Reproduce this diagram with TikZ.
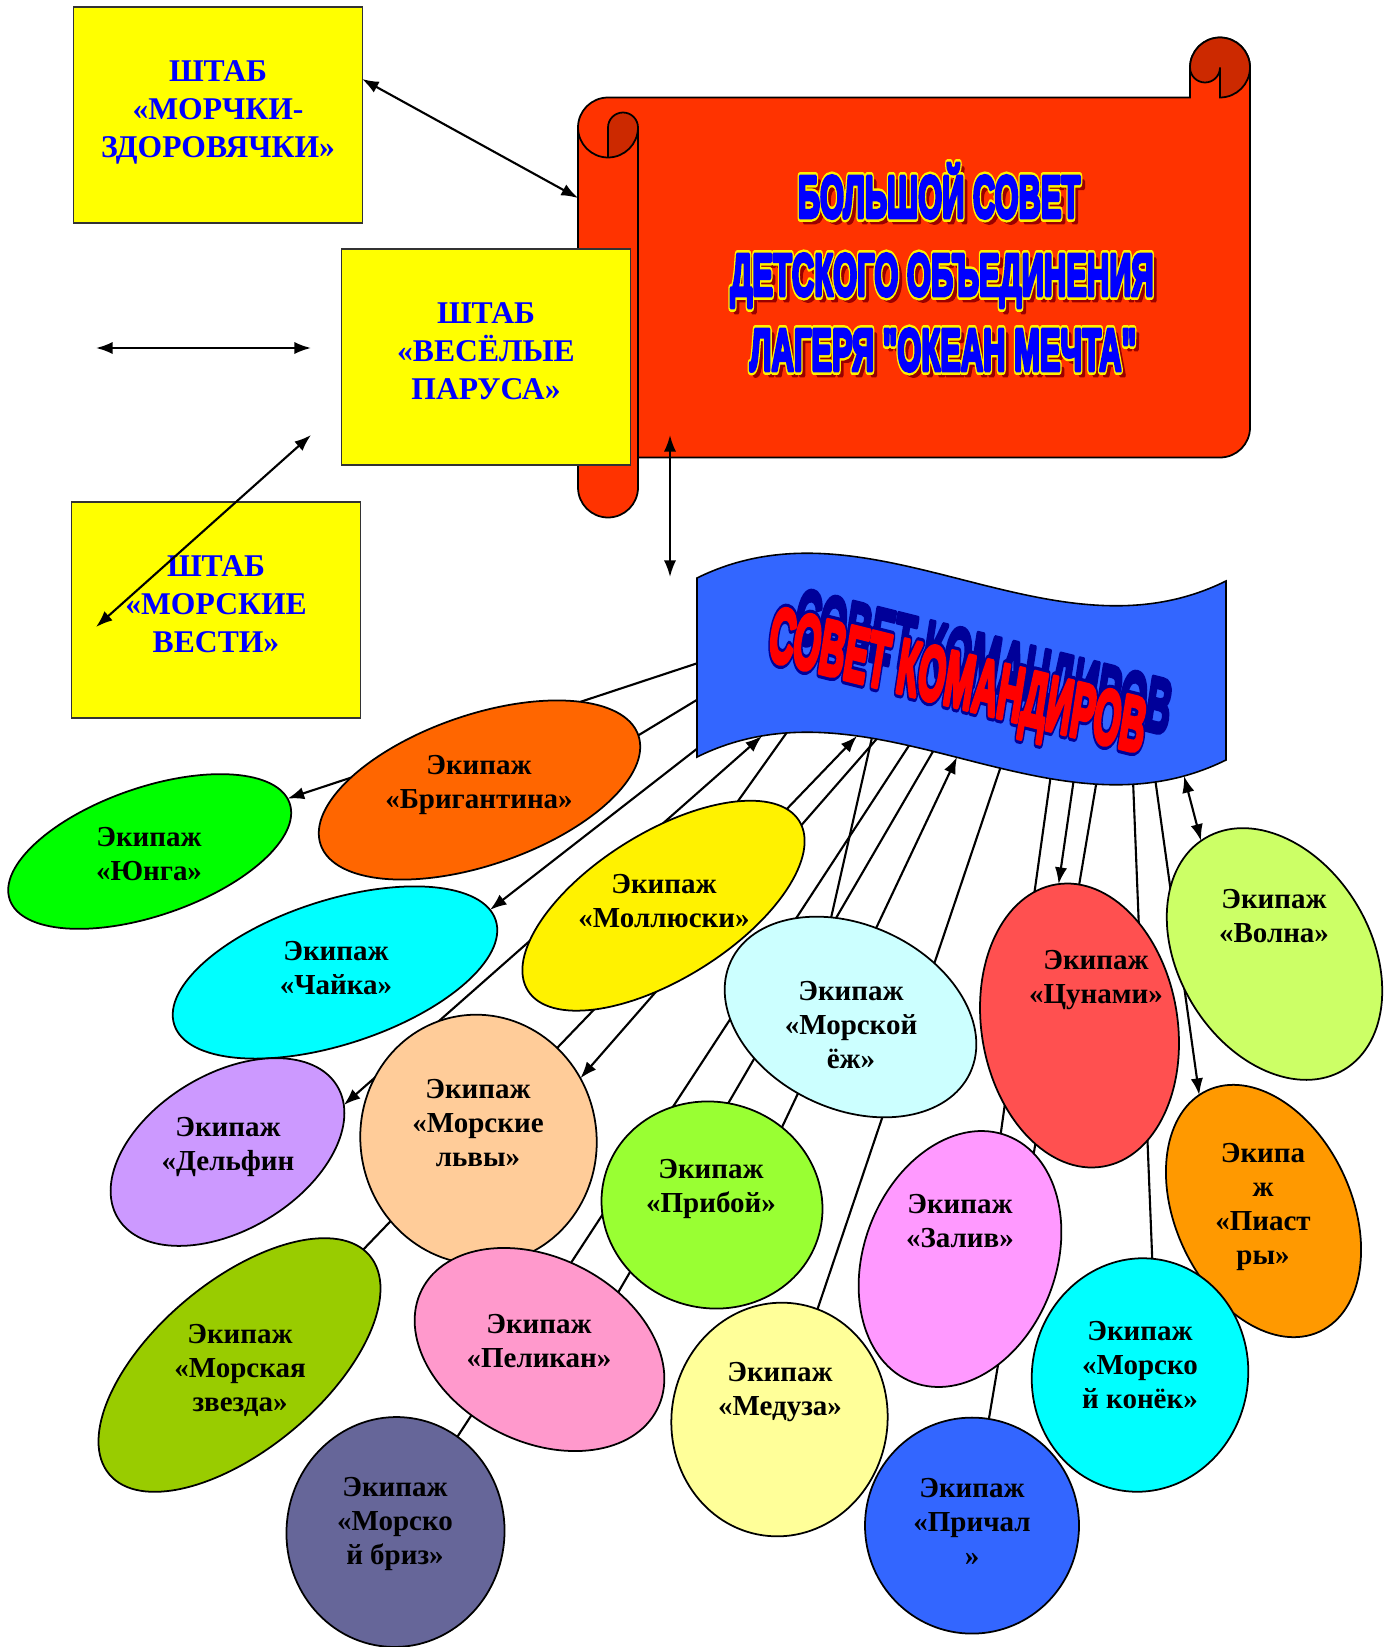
\documentclass[tikz,border=0pt]{standalone}
\usepackage{fontspec}
\usepackage{graphicx}
\setmainfont{Liberation Serif}
\newfontfamily\plakat{Liberation Sans}
\usetikzlibrary{shapes.geometric,arrows.meta,backgrounds}

\definecolor{boxgelb}{HTML}{FFFF00}
\definecolor{rollrot}{HTML}{FF3300}
\definecolor{rolldunkel}{HTML}{CC2900}
\definecolor{fahneblau}{HTML}{3366FF}
\definecolor{tiefblau}{HTML}{000099}
\definecolor{schattenrot}{HTML}{990000}
\definecolor{hellgruen}{HTML}{00FF00}
\definecolor{orangerot}{HTML}{FF6600}
\definecolor{tuerkis}{HTML}{00FFFF}
\definecolor{lindgruen}{HTML}{CCFF66}
\definecolor{koralle}{HTML}{FF5050}
\definecolor{eisblau}{HTML}{CCFFFF}
\definecolor{flieder}{HTML}{CC99FF}
\definecolor{pfirsich}{HTML}{FFCC99}
\definecolor{grasgruen}{HTML}{99FF33}
\definecolor{orangegelb}{HTML}{FF9900}
\definecolor{rosa}{HTML}{FF99FF}
\definecolor{olivgruen}{HTML}{99CC00}
\definecolor{altrosa}{HTML}{FF99CC}
\definecolor{hellgelb}{HTML}{FFFF99}
\definecolor{graublau}{HTML}{666699}

\def\s{0.02}
\def\punkt#1#2{({(#1)*\s},{-(#2)*\s})}
\newcommand\kontur[2]{\special{pdf:literal direct 1 j #1 w 2 Tr}#2\special{pdf:literal direct 0 Tr}}
\newcommand\wortbild[4]{\resizebox{#1}{#2}{\vphantom{Н}\smash{\kontur{#3}{#4}}}}
\newcommand\schrift[9]{%
  \node[wordart,text=#4,xshift=#5,yshift=#6] at (#1) {\wortbild{#2}{#3}{2.4}{#9}};
  \node[wordart,text=#7] at (#1) {\wortbild{#2}{#3}{5.4}{#9}};
  \node[wordart,text=#8] at (#1) {\wortbild{#2}{#3}{2.4}{#9}};
}
\newcommand\ekip[7]{\path \punkt{#2}{#3} node[crew,fill=#7,minimum width={2*#4*\s*1cm},minimum height={2*#5*\s*1cm},rotate=#6] (#1) {};}

\begin{document}
\begin{tikzpicture}[>={Latex[length=9.5pt,width=7pt]},line width=1.2pt,
  shtab/.style={draw=black!80,line width=0.7pt,fill=boxgelb,minimum width=5.77cm,minimum height=4.32cm,
    inner sep=0pt,outer sep=0pt,align=center,text=blue,text depth=0.24cm,font=\bfseries\fontsize{18}{21.4}\selectfont},
  rolle/.style={fill=rollrot,draw=black,line width=1pt},
  rollkern/.style={fill=rolldunkel,draw=black,line width=1pt},
  fahne/.style={fill=fahneblau,draw=black,line width=0.9pt},
  crew/.style={ellipse,draw=black,line width=1pt,inner sep=0pt,outer sep=0pt},
  mannschaft/.style={align=center,inner sep=0pt,font=\bfseries\fontsize{16.5}{19.3}\selectfont},
  wordart/.style={inner sep=0pt,outer sep=0pt,transform shape,font=\plakat\bfseries\fontsize{36}{40}\selectfont}]
\useasboundingbox \punkt{0}{0} rectangle \punkt{1390}{1647};

\filldraw[rolle] \punkt{578}{127.5} arc (180:90:0.6) -- \punkt{1190}{97.5} -- \punkt{1190}{67.5} arc (180:0:0.6)
  -- \punkt{1250}{427.5} arc (0:-90:0.6) -- \punkt{638}{457.5} -- \punkt{638}{487.5} arc (0:-180:0.6) -- cycle;
\draw[line width=1pt] \punkt{638}{127.5} -- \punkt{638}{457.5};
\draw[line width=1pt] \punkt{578}{127.5} arc (180:270:0.6);
\filldraw[rollkern] \punkt{608}{157.5} -- \punkt{608}{127.5} arc (180:0:0.3) arc (0:-90:0.6) -- cycle;
\filldraw[rollkern] \punkt{1190}{67.5} arc (180:-90:0.6) -- \punkt{1220}{67.5} arc (0:-180:0.3) -- cycle;

\path \punkt{939}{197} coordinate (z1);
\path \punkt{942}{275} coordinate (z2);
\path \punkt{943}{350} coordinate (z3);
\schrift{z1}{5.65cm}{0.82cm}{schattenrot}{2.3pt}{-2.8pt}{yellow}{blue}{БОЛЬШОЙ СОВЕТ}
\schrift{z2}{8.47cm}{0.82cm}{schattenrot}{2.3pt}{-2.8pt}{yellow}{blue}{ДЕТСКОГО ОБЪЕДИНЕНИЯ}
\schrift{z3}{7.73cm}{0.82cm}{schattenrot}{2.3pt}{-2.8pt}{yellow}{blue}{ЛАГЕРЯ "ОКЕАН МЕЧТА"}

\path \punkt{218}{115} node[shtab] (b1) {ШТАБ\\«МОРЧКИ-\\ЗДОРОВЯЧКИ»};
\path \punkt{486}{357} node[shtab] (b2) {ШТАБ\\«ВЕСЁЛЫЕ\\ПАРУСА»};
\path \punkt{216}{610} node[shtab] (b3) {ШТАБ\\«МОРСКИЕ\\ВЕСТИ»};

\foreach \n/\x/\y in {p1/362/79,p2/578/198,p3/96/348,p4/311/348,p5/311/435,p6/96/627,p7/670/435,p8/670/577}
  \path \punkt{\x}{\y} coordinate (\n);
\draw[<->] (p1) -- (p2);
\draw[<->] (p3) -- (p4);
\draw[<->] (p5) -- (p6);
\draw[<->] (p7) -- (p8);

\filldraw[fahne] \punkt{697}{578} .. controls \punkt{873}{491} and \punkt{1050}{668} .. \punkt{1226}{581}
  -- \punkt{1226}{760} .. controls \punkt{1050}{847} and \punkt{873}{670} .. \punkt{697}{757} -- cycle;
\begin{scope}[shift={({958*\s},{-680*\s})},yslant=-0.25,xslant=0.15]
  \path (0,0) coordinate (bt);
  \schrift{bt}{7.5cm}{1.08cm}{tiefblau}{12.5pt}{14pt}{tiefblau}{red}{СОВЕТ КОМАНДИРОВ}
\end{scope}

\ekip{junga}{149.7}{851.5}{148}{64}{19}{hellgruen}
\ekip{brig}{479.5}{790}{168}{75}{19}{orangerot}
\ekip{chaika}{335}{972.5}{169}{72}{18}{tuerkis}
\ekip{moll}{663.5}{905.7}{160}{73}{32}{yellow}
\ekip{volna}{1274.5}{954}{96}{135}{31}{lindgruen}
\ekip{cunami}{1079.5}{1025.5}{98}{143}{9.4}{koralle}
\ekip{ezh}{850.5}{1017}{132}{92}{-25}{eisblau}
\ekip{delfin}{227.5}{1152}{128}{78}{31}{flieder}
\ekip{lvy}{478.5}{1139.5}{118}{125}{10}{pfirsich}
\ekip{priboj}{712}{1205}{111}{103}{-15}{grasgruen}
\ekip{piastry}{1263.5}{1211}{88}{133}{25}{orangegelb}
\ekip{zaliv}{960}{1259}{96}{132}{-21}{rosa}
\ekip{zvezda}{239.5}{1365}{170}{84}{40}{olivgruen}
\ekip{pelikan}{539.5}{1349.5}{132}{92}{-27}{altrosa}
\ekip{konek}{1140}{1375}{108}{117}{-10}{tuerkis}
\ekip{meduza}{779.5}{1419.5}{108}{117}{-8}{hellgelb}
\ekip{briz}{395.5}{1532}{109}{115}{-5}{graublau}
\ekip{prichal}{972}{1525.6}{107}{108}{0}{fahneblau}

\path \punkt{149}{854} node[mannschaft] (junga-t) {Экипаж\\«Юнга»};
\path \punkt{479}{785} node[mannschaft] (brig-t) {Экипаж\\«Бригантина»};
\path \punkt{336}{968} node[mannschaft] (chaika-t) {Экипаж\\«Чайка»};
\path \punkt{664}{901} node[mannschaft] (moll-t) {Экипаж\\«Моллюски»};
\path \punkt{851}{1025} node[mannschaft] (ezh-t) {Экипаж\\«Морской\\ёж»};
\path \punkt{1096}{980} node[mannschaft] (cunami-t) {Экипаж\\«Цунами»};
\path \punkt{1274}{916} node[mannschaft] (volna-t) {Экипаж\\«Волна»};
\path \punkt{228}{1147} node[mannschaft] (delfin-t) {Экипаж\\«Дельфин};
\path \punkt{478}{1123} node[mannschaft] (lvy-t) {Экипаж\\«Морские\\львы»};
\path \punkt{711}{1189} node[mannschaft] (priboj-t) {Экипаж\\«Прибой»};
\path \punkt{960}{1221} node[mannschaft] (zaliv-t) {Экипаж\\«Залив»};
\path \punkt{1263}{1207} node[mannschaft] (piastry-t) {Экипа\\ж\\«Пиаст\\ры»};
\path \punkt{240}{1370} node[mannschaft] (zvezda-t) {Экипаж\\«Морская\\звезда»};
\path \punkt{539}{1341} node[mannschaft] (pelikan-t) {Экипаж\\«Пеликан»};
\path \punkt{780}{1392} node[mannschaft] (meduza-t) {Экипаж\\«Медуза»};
\path \punkt{1140}{1365} node[mannschaft] (konek-t) {Экипаж\\«Морско\\й конёк»};
\path \punkt{395}{1524} node[mannschaft] (briz-t) {Экипаж\\«Морско\\й бриз»};
\path \punkt{972}{1522} node[mannschaft] (prichal-t) {Экипаж\\«Причал\\»};

\foreach \n/\x/\y in {s1/698/663,s2/700/698,s3/698/748,s4/762/736,s5/857/736,s6/957/757,s7/1002/763,
  s8/1074/778,s9/1184/776,s10/1155/778,s11/1133/780,s12/1097/779,s13/1051/774,s14/873/733,
  s15/790/728,s16/881/734,s17/935/748,s18/910/744}
  \path \punkt{\x}{\y} coordinate (\n);

\begin{pgfonlayer}{background}
\fill[white] \punkt{0}{0} rectangle \punkt{1390}{1647};
\begin{scope}[line width=1.2pt]
\draw[->] (s1) -- (junga.2);
\draw (s2) -- (brig.0);
\draw[->] (s3) -- (chaika.4);
\draw[<->] (s4) -- (delfin.-9);
\draw[<-] (s5) -- (zvezda.3);
\draw[<-] (s6) -- (priboj.63);
\draw (s7) -- (meduza.79);
\draw[->] (s8) -- (cunami.89);
\draw[<->] (s9) -- (volna.92);
\draw[->] (s10) -- (piastry.94);
\draw (s11) -- (konek.94);
\draw (s12) -- (prichal.81);
\draw (s13) -- (zaliv.93);
\draw (s14) -- (ezh.126);
\draw (s15) -- (moll);
\draw[->] (s16) -- (lvy.21);
\draw (s17) -- (pelikan.63);
\draw (s18) -- (briz.62);
\end{scope}
\end{pgfonlayer}
\end{tikzpicture}
\end{document}
